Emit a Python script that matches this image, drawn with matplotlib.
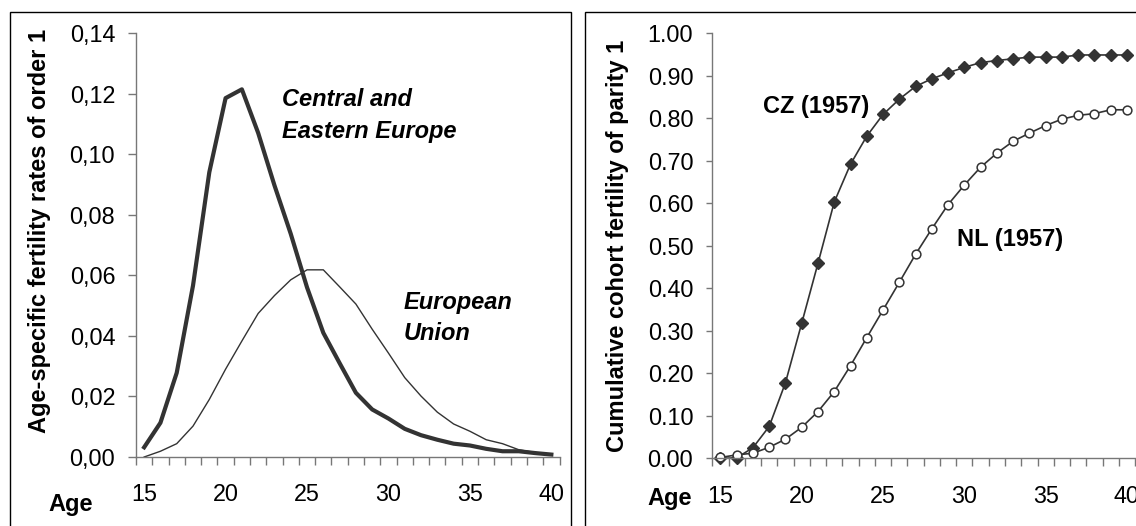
import numpy as np
import matplotlib
matplotlib.use("Agg")
import matplotlib.pyplot as plt
from matplotlib.patches import Rectangle

plt.rcParams['font.family'] = ['Liberation Sans', 'DejaVu Sans']

# --- data ---
ages = list(range(15, 41))
cee = [0.0032, 0.0113, 0.0278, 0.0566, 0.0940, 0.1185, 0.1214, 0.1070, 0.0897, 0.0737,
       0.0560, 0.0410, 0.0310, 0.0212, 0.0157, 0.0127, 0.0093, 0.0072, 0.0057, 0.0044,
       0.0038, 0.0027, 0.0019, 0.0019, 0.0013, 0.0008]
eu = [0.0000, 0.0019, 0.0044, 0.0102, 0.0190, 0.0290, 0.0383, 0.0474, 0.0533, 0.0585,
      0.0618, 0.0618, 0.0562, 0.0505, 0.0422, 0.0343, 0.0262, 0.0201, 0.0148, 0.0109,
      0.0085, 0.0057, 0.0044, 0.0024, 0.0015, 0.0008]
cz = [0.000, 0.001, 0.025, 0.075, 0.178, 0.318, 0.459, 0.603, 0.692, 0.758,
      0.809, 0.845, 0.875, 0.893, 0.907, 0.920, 0.931, 0.936, 0.940, 0.944,
      0.944, 0.944, 0.949, 0.949, 0.949, 0.949]
nl = [0.002, 0.008, 0.012, 0.026, 0.045, 0.073, 0.110, 0.157, 0.218, 0.284,
      0.349, 0.414, 0.480, 0.540, 0.597, 0.643, 0.685, 0.718, 0.746, 0.765,
      0.783, 0.798, 0.807, 0.811, 0.820, 0.820]

left_yticks = [0.00, 0.02, 0.04, 0.06, 0.08, 0.10, 0.12, 0.14]
left_ylabels = ['0,00', '0,02', '0,04', '0,06', '0,08', '0,10', '0,12', '0,14']
right_yticks = [i / 10 for i in range(11)]
right_ylabels = ['%.2f' % v for v in right_yticks]
xticks = [15, 20, 25, 30, 35, 40]

W, H = 1136, 526
fig = plt.figure(figsize=(W / 100, H / 100), dpi=100)


def fx(px):
    return px / W


def fy(py):
    return 1 - py / H


line_col = '#333333'
axis_col = '#777777'
tick_fs = 16.8
lab_fs = 17

# frames around the two panels
fig.patches.append(Rectangle((fx(9.5), fy(560)), fx(561), (560 - 12) / H,
                             transform=fig.transFigure, fill=False,
                             edgecolor='black', lw=1.0))
fig.patches.append(Rectangle((fx(585), fy(560)), fx(600), (560 - 12) / H,
                             transform=fig.transFigure, fill=False,
                             edgecolor='black', lw=1.0))

ax1 = fig.add_axes([fx(136), fy(457), fx(423.5), 424 / H])
ax2 = fig.add_axes([fx(712.3), fy(458.3), fx(422.8), 425 / H])


def style(ax, ylen, ypad):
    for s in ['top', 'right']:
        ax.spines[s].set_visible(False)
    for s in ['left', 'bottom']:
        ax.spines[s].set_color(axis_col)
        ax.spines[s].set_linewidth(1.0)
    ax.set_xlim(14.5, 40.5)
    ax.set_xticks(xticks)
    ax.set_xticks(np.arange(14.5, 41, 1), minor=True)
    ax.tick_params(axis='x', which='major', length=0, pad=19, labelsize=tick_fs)
    ax.tick_params(axis='x', which='minor', length=5.5, width=1.0,
                   color=axis_col, direction='out')
    ax.tick_params(axis='y', length=ylen, width=1.0, color=axis_col,
                   pad=ypad, labelsize=tick_fs)


ax1.plot(ages, eu, color=line_col, lw=1.0)
ax1.plot(ages, cee, color=line_col, lw=3.0)
ax1.set_ylim(0, 0.14)
ax1.set_yticks(left_yticks)
ax1.set_yticklabels(left_ylabels)
style(ax1, 6, 9.0)

ax2.plot(ages, cz, color=line_col, lw=1.2, marker='D', markersize=6,
         markerfacecolor=line_col, markeredgecolor=line_col)
ax2.plot(ages, nl, color=line_col, lw=1.2, marker='o', markersize=6.3,
         markerfacecolor='white', markeredgecolor=line_col, markeredgewidth=1.1)
ax2.set_ylim(0, 1.0)
ax2.set_yticks(right_yticks)
ax2.set_yticklabels(right_ylabels)
style(ax2, 4.5, 9.2)
for a in (ax1, ax2):
    for ln in a.lines:
        ln.set_clip_on(False)

# axis titles
fig.text(fx(40), fy(231), 'Age-specific fertility rates of order 1', rotation=90,
         ha='center', va='center', fontsize=lab_fs, fontweight='bold')
fig.text(fx(617.7), fy(246), 'Cumulative cohort fertility of parity 1', rotation=90,
         ha='center', va='center', fontsize=lab_fs, fontweight='bold')
fig.text(fx(71), fy(505), 'Age', ha='center', va='center', fontsize=lab_fs,
         fontweight='bold')
fig.text(fx(669.5), fy(498.3), 'Age', ha='center', va='center', fontsize=lab_fs,
         fontweight='bold')

# series labels
bi = dict(fontsize=17, fontweight='bold', fontstyle='italic', ha='left', va='center')
fig.text(fx(281.7), fy(100), 'Central and', **bi)
fig.text(fx(281.7), fy(131.7), 'Eastern Europe', **bi)
fig.text(fx(403.3), fy(302.7), 'European', **bi)
fig.text(fx(403.3), fy(333.3), 'Union', **bi)
fig.text(fx(763.3), fy(106), 'CZ (1957)', fontsize=17, fontweight='bold',
         ha='left', va='center')
fig.text(fx(957.3), fy(239.3), 'NL (1957)', fontsize=17, fontweight='bold',
         ha='left', va='center')

fig.savefig('out.png', dpi=100)
